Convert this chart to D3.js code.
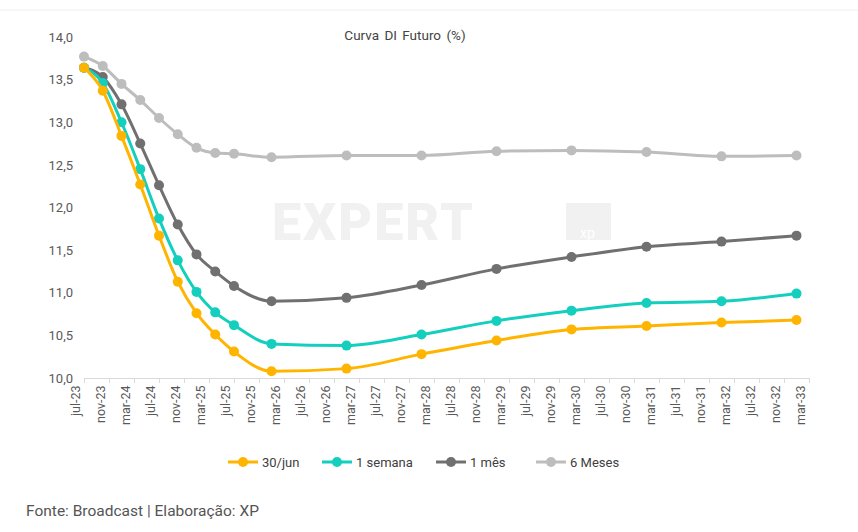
<!DOCTYPE html>
<html><head><meta charset="utf-8">
<script src="https://cdn.jsdelivr.net/npm/d3@7"></script>
<style>body{margin:0;background:#fff;font-family:Roboto,"Open Sans",sans-serif;}</style>
</head><body><svg id="c" width="858" height="532"></svg>
<script>
// months since jul-23 for each contract
var months = [0, 3, 6, 9, 12, 15, 18, 21, 24, 30, 42, 54, 66, 78, 90, 102, 114];
var s30jun = [13.64, 13.37, 12.84, 12.27, 11.67, 11.13, 10.76, 10.51, 10.31, 10.08, 10.11, 10.28, 10.44, 10.57, 10.61, 10.65, 10.68];
var s1sem = [13.64, 13.46, 13.00, 12.45, 11.87, 11.38, 11.01, 10.77, 10.62, 10.40, 10.38, 10.51, 10.67, 10.79, 10.88, 10.90, 10.99];
var s1mes = [13.64, 13.53, 13.21, 12.75, 12.26, 11.80, 11.45, 11.25, 11.08, 10.90, 10.94, 11.09, 11.28, 11.42, 11.54, 11.60, 11.67];
var s6mes = [13.77, 13.66, 13.45, 13.26, 13.05, 12.86, 12.70, 12.64, 12.63, 12.59, 12.61, 12.61, 12.66, 12.67, 12.65, 12.60, 12.61];
var seriesNames = ["30/jun", "1 semana", "1 mês", "6 Meses"];
var seriesColors = ["#FFB500", "#14CFBE", "#707070", "#BDBDBD"];
var monthNames = ["jul", "nov", "mar"];

var svg = d3.select("#c");
var x = d3.scaleLinear().domain([0, 116]).range([84, 809]);
var y = d3.scaleLinear().domain([10, 14]).range([378, 37]);

svg.append("line").attr("x1", 0).attr("x2", 858).attr("y1", 10).attr("y2", 10).attr("stroke", "#eee");

// watermark
svg.append("text").attr("x", 272).attr("y", 240).attr("font-size", 52).attr("font-weight", 900)
  .attr("fill", "#f1f1f1").attr("letter-spacing", 2).text("EXPERT");
svg.append("rect").attr("x", 566).attr("y", 203).attr("width", 45).attr("height", 37).attr("fill", "#f1f1f1");
svg.append("text").attr("x", 580).attr("y", 238).attr("font-size", 14).attr("fill", "#fff").text("xp");

svg.append("text").attr("x", 405).attr("y", 40).attr("text-anchor", "middle")
  .attr("font-size", 13.5).attr("fill", "#444").attr("word-spacing", 2).text("Curva DI Futuro (%)");

var yAxis = d3.axisLeft(y).tickValues(d3.range(10, 14.01, 0.5)).tickSize(0)
  .tickFormat(function(d) { return d3.format(".1f")(d).replace(".", ","); });
var gy = svg.append("g").attr("transform", "translate(76,0)").call(yAxis);
gy.select(".domain").remove();
gy.selectAll("text").attr("font-size", 13).attr("fill", "#595959").attr("font-family", "Roboto");

var ticks = d3.range(0, 117, 4);
var xAxis = d3.axisBottom(x).tickValues(ticks).tickSize(5)
  .tickFormat(function(d) { var yr = 23 + Math.floor((d + 6) / 12); return monthNames[(d / 4) % 3] + "-" + yr; });
var gx = svg.append("g").attr("transform", "translate(0,378)").call(xAxis);
gx.select(".domain").attr("stroke", "#d9d9d9");
gx.selectAll(".tick line").attr("stroke", "#d9d9d9");
gx.selectAll("text").attr("font-size", 12.5).attr("fill", "#595959").attr("font-family", "Roboto")
  .attr("transform", "rotate(-90)").attr("text-anchor", "end").attr("dx", "-0.6em").attr("dy", "-0.4em").attr("y", 0).attr("x", 0);

var all = [s6mes, s1mes, s1sem, s30jun];
var cols = [seriesColors[3], seriesColors[2], seriesColors[1], seriesColors[0]];
var line = d3.line().x(function(d, i) { return x(months[i]); }).y(function(d) { return y(d); }).curve(d3.curveMonotoneX);
all.forEach(function(s, k) {
  svg.append("path").attr("d", line(s)).attr("fill", "none").attr("stroke", cols[k]).attr("stroke-width", 3);
  svg.selectAll(null).data(s).enter().append("circle")
    .attr("cx", function(d, i) { return x(months[i]); }).attr("cy", function(d) { return y(d); })
    .attr("r", 5).attr("fill", cols[k]);
});

// legend
var lx = [228, 322, 436, 536];
seriesNames.forEach(function(n, i) {
  var g = svg.append("g").attr("transform", "translate(" + lx[i] + ",462)");
  g.append("line").attr("x1", 0).attr("x2", 30).attr("stroke", seriesColors[i]).attr("stroke-width", 3);
  g.append("circle").attr("cx", 15).attr("r", 5).attr("fill", seriesColors[i]);
  g.append("text").attr("x", 34).attr("y", 5).attr("font-size", 13).attr("fill", "#404040").text(n);
});

svg.append("text").attr("x", 26).attr("y", 516).attr("font-size", 15.5).attr("fill", "#555").text("Fonte: Broadcast | Elaboração: XP");
</script></body></html>
